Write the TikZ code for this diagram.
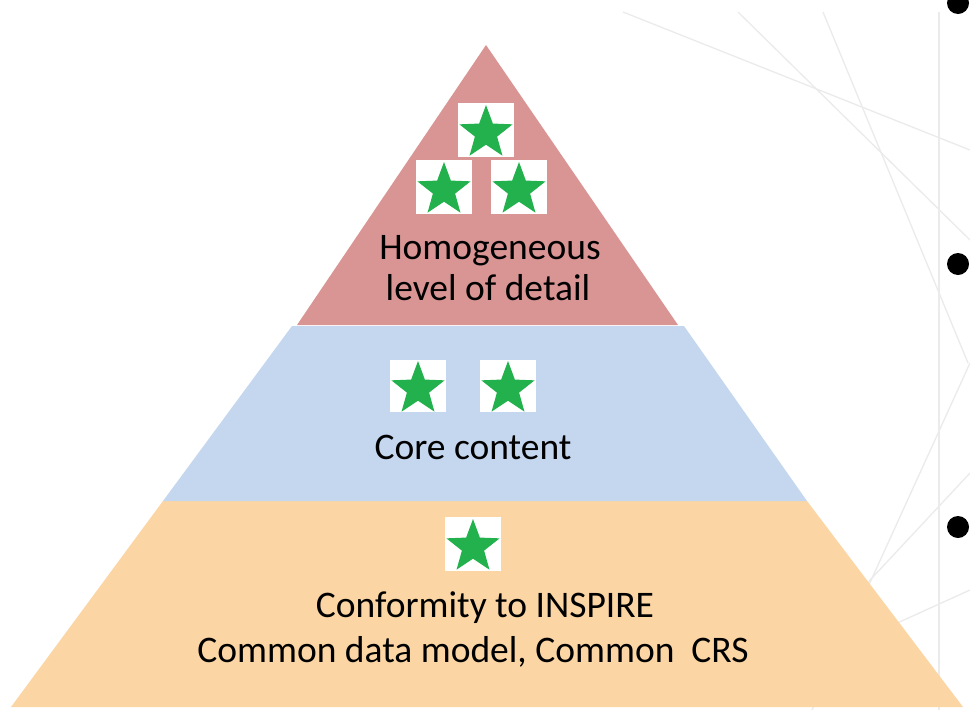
\documentclass[tikz,border=0pt]{standalone}
\usepackage{fontspec}
\setmainfont{Carlito}
\usetikzlibrary{shapes.geometric}
\definecolor{toplayer}{HTML}{D99594}
\definecolor{midlayer}{HTML}{C5D7EF}
\definecolor{botlayer}{HTML}{FBD6A4}
\definecolor{stargreen}{HTML}{22B14C}
\definecolor{decor}{HTML}{EBEBEB}
\tikzset{
  starbox/.style={fill=white, draw=none, minimum width=56pt, minimum height=54pt, inner sep=0pt},
  greenstar/.style={shape=star, star points=5, star point ratio=2.4, minimum size=56pt, inner sep=0pt, fill=stargreen, draw=none},
  label/.style={font=\fontsize{37.5}{45}\selectfont, text=black, inner sep=0pt, anchor=base},
  bullet/.style={circle, fill=black, minimum size=22pt, inner sep=0pt},
  decoline/.style={draw=decor, line width=1.3pt}
}
\begin{document}
\begin{tikzpicture}[x=1pt, y=-1pt]
\useasboundingbox[fill=white] (0,0) rectangle (970,710);
% decorative background lines
\draw[decoline] (623,12) -- (970,150);
\draw[decoline] (738,12) -- (970,240);
\draw[decoline] (823,12) -- (968,363);
\draw[decoline] (970,363) -- (812,710);
\draw[decoline] (970,473) -- (830,623);
\draw[decoline] (970,590) -- (840,649);
\draw[decoline] (939,12) -- (939,710);
% pyramid layers
\fill[botlayer] (163,501) -- (807,501) -- (963,707) -- (11,707) -- cycle;
\fill[midlayer] (292,326) -- (684,326) -- (807,501) -- (163,501) -- cycle;
\fill[toplayer] (486,45) -- (678,325) -- (297,325) -- cycle;
% stars, top layer
\node[starbox] (b1) at (486,130) {};
\node[greenstar] (s1) at ([yshift=-3pt]b1.center) {};
\node[starbox] (b2) at (444,187) {};
\node[greenstar] (s2) at ([yshift=-3pt]b2.center) {};
\node[starbox] (b3) at (519,187) {};
\node[greenstar] (s3) at ([yshift=-3pt]b3.center) {};
% stars, middle layer
\node[starbox, minimum height=52pt] (b4) at (418,386) {};
\node[greenstar] (s4) at ([yshift=-3pt]b4.center) {};
\node[starbox, minimum height=52pt] (b5) at (508,386) {};
\node[greenstar] (s5) at ([yshift=-3pt]b5.center) {};
% star, bottom layer
\node[starbox] (b6) at (473,544) {};
\node[greenstar] (s6) at ([yshift=-3pt]b6.center) {};
% texts
\node[label] (t1) at (490,259) {Homogeneous};
\node[label] (t2) at (488,300) {level of detail};
\node[label] (t3) at (473,459) {Core content};
\node[label] (t4) at (485,617) {Conformity to INSPIRE};
\node[label] (t5) at (473,662) {Common data model, Common\ \ CRS};
% bullets
\node[bullet] (d1) at (958,3) {};
\node[bullet] (d2) at (958,264) {};
\node[bullet] (d3) at (958,527) {};
\end{tikzpicture}
\end{document}
